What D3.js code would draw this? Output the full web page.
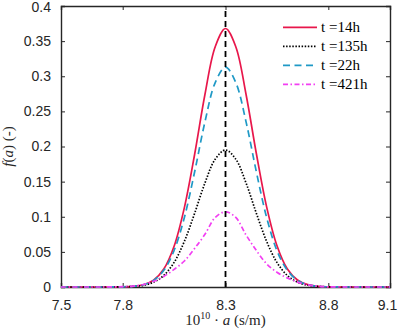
<!DOCTYPE html>
<html>
<head>
<meta charset="utf-8">
<script src="https://cdn.jsdelivr.net/npm/d3@7"></script>
<style>
  body { margin: 0; background: #fff; }
  svg { display: block; }
  .tick text { font-family: "Liberation Sans", Arial, sans-serif; font-size: 14px; fill: #262626; }
</style>
</head>
<body>
<div id="chart"></div>
<script>
// sampled positions along the x axis (10^10 * a)
var xs = [7.5, 7.6, 7.7, 7.8, 7.85, 7.9, 7.95, 8.0, 8.05, 8.1, 8.15, 8.2, 8.25, 8.3,
          8.35, 8.4, 8.45, 8.5, 8.55, 8.6, 8.65, 8.7, 8.75, 8.8, 8.9, 9.0, 9.1];

// values, one array per curve
var t14 = [0, 0, 0, 0.0002, 0.0009, 0.0032, 0.0098, 0.0256, 0.058, 0.113, 0.189, 0.274, 0.342, 0.368,
           0.342, 0.274, 0.190, 0.114, 0.059, 0.026, 0.010, 0.0033, 0.0009, 0.0002, 0, 0, 0];
var t135 = [0, 0, 0, 0.0002, 0.0008, 0.0024, 0.0068, 0.0165, 0.035, 0.065, 0.105, 0.148, 0.182, 0.195,
            0.182, 0.148, 0.105, 0.065, 0.035, 0.0166, 0.0069, 0.0025, 0.0008, 0.0002, 0, 0, 0];
var t22 = [0, 0, 0, 0.0003, 0.0009, 0.0032, 0.0093, 0.0237, 0.052, 0.099, 0.164, 0.235, 0.291, 0.313,
           0.291, 0.235, 0.164, 0.099, 0.052, 0.024, 0.0094, 0.0032, 0.0009, 0.0003, 0, 0, 0];
var t421 = [0, 0, 0, 0.0004, 0.0012, 0.0035, 0.008, 0.015, 0.025, 0.037, 0.055, 0.075, 0.099, 0.107,
            0.099, 0.074, 0.052, 0.033, 0.021, 0.013, 0.007, 0.003, 0.0011, 0.0003, 0, 0, 0];

var xTicks = [7.5, 7.8, 8.3, 8.8, 9.1];
var yTicks = [0, 0.05, 0.1, 0.15, 0.2, 0.25, 0.3, 0.35, 0.4];
var peakX = 8.3;

var series = [
  { name: 't =14h',  vals: t14,  color: '#e8174b', dash: null,          width: 1.7 },
  { name: 't =135h', vals: t135, color: '#000000', dash: '1.5,1.6',     width: 1.7 },
  { name: 't =22h',  vals: t22,  color: '#1f99c6', dash: '7,4.5',       width: 1.7 },
  { name: 't =421h', vals: t421, color: '#f23ff2', dash: '5,2.5,1.5,2.5', width: 1.7 }
];

var width = 398, height = 330;
var margin = { top: 6, right: 8, bottom: 43, left: 61 };
var w = width - margin.left - margin.right;
var h = height - margin.top - margin.bottom;

var svg = d3.select('#chart').append('svg')
  .attr('width', width)
  .attr('height', height);

var g = svg.append('g')
  .attr('transform', 'translate(' + margin.left + ',' + margin.top + ')');

var x = d3.scaleLinear().domain([7.5, 9.1]).range([0, w]);
var y = d3.scaleLinear().domain([0, 0.4]).range([h, 0]);

// axes, ticks pointing inward
var fmt = function (d) { return d3.format('')(+d.toFixed(2)); };

var xAx = g.append('g')
  .attr('transform', 'translate(0,' + h + ')')
  .call(d3.axisBottom(x).tickValues(xTicks).tickSize(-4).tickPadding(13).tickFormat(fmt));
// keep the last label inside the window
xAx.selectAll('.tick text').filter(function (d) { return d === 9.1; }).attr('dx', -3);

var yAx = g.append('g')
  .call(d3.axisLeft(y).tickValues(yTicks).tickSize(-4).tickPadding(10).tickFormat(fmt));
yAx.selectAll('.tick text').filter(function (d) { return d === 0.4; }).attr('dy', '0.4em');

g.append('g')
  .call(d3.axisTop(x).tickValues(xTicks).tickSize(-4).tickFormat(''));
g.append('g')
  .attr('transform', 'translate(' + w + ',0)')
  .call(d3.axisRight(y).tickValues(yTicks).tickSize(-4).tickFormat(''));

g.selectAll('.domain').attr('stroke', '#262626').attr('stroke-width', 1.4);
g.selectAll('.tick line').attr('stroke', '#262626').attr('stroke-width', 1);

// curves
var line = d3.line()
  .x(function (d) { return x(d[0]); })
  .y(function (d) { return y(d[1]); })
  .curve(d3.curveCatmullRom.alpha(0.5));

series.forEach(function (s) {
  var pts = xs.map(function (xv, i) { return [xv, s.vals[i]]; });
  g.append('path')
    .datum(pts)
    .attr('fill', 'none')
    .attr('stroke', s.color)
    .attr('stroke-width', s.width)
    .attr('stroke-dasharray', s.dash)
    .attr('d', line);
});

// vertical dashed marker at the peak
g.append('line')
  .attr('x1', x(peakX)).attr('x2', x(peakX))
  .attr('y1', y(0)).attr('y2', y(0.4))
  .attr('stroke', '#000')
  .attr('stroke-width', 1.8)
  .attr('stroke-dasharray', '6,4');

// legend
var leg = g.append('g').attr('transform', 'translate(' + (283 - margin.left) + ',' + (27.3 - margin.top) + ')');
series.forEach(function (s, i) {
  var row = leg.append('g').attr('transform', 'translate(0,' + (i * 19) + ')');
  row.append('line')
    .attr('x1', 0).attr('x2', 34)
    .attr('stroke', s.color)
    .attr('stroke-width', s.width)
    .attr('stroke-dasharray', s.dash);
  row.append('text')
    .attr('x', 38).attr('y', 5)
    .attr('font-family', '"Liberation Serif", "DejaVu Serif", serif')
    .attr('font-size', 15)
    .attr('fill', '#000')
    .text(s.name);
});

// axis titles
var xl = svg.append('text')
  .attr('x', margin.left + w / 2)
  .attr('y', 325)
  .attr('text-anchor', 'middle')
  .attr('font-family', '"Liberation Serif", serif')
  .attr('font-size', 15)
  .attr('fill', '#262626');
xl.append('tspan').text('10');
xl.append('tspan').attr('font-size', 10).attr('dy', -6).text('10');
xl.append('tspan').attr('dy', 6).text(' \u00b7 ');
xl.append('tspan').attr('font-style', 'italic').text('a');
xl.append('tspan').text(' (s/m)');

var yl = svg.append('text')
  .attr('transform', 'translate(13,' + (margin.top + h / 2) + ') rotate(-90)')
  .attr('text-anchor', 'middle')
  .attr('font-family', '"Liberation Serif", serif')
  .attr('font-size', 15)
  .attr('fill', '#262626');
yl.append('tspan').attr('font-style', 'italic').text('f');
yl.append('tspan').text('(');
yl.append('tspan').attr('font-style', 'italic').text('a');
yl.append('tspan').text(') (-)');
</script>
</body>
</html>
